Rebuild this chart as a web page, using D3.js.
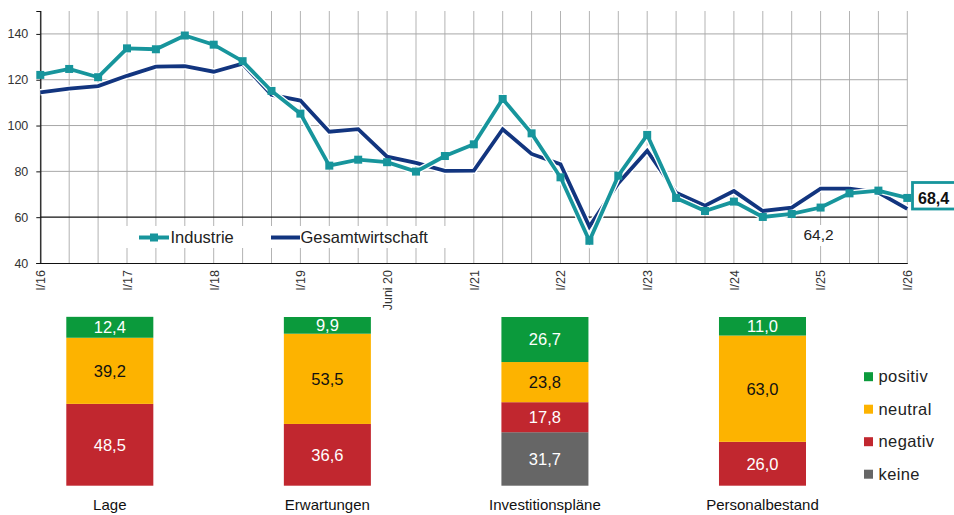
<!DOCTYPE html>
<html><head><meta charset="utf-8">
<script src="https://cdn.jsdelivr.net/npm/d3@7"></script>
<style>
html,body{margin:0;padding:0;background:#fff;}
svg{display:block;font-family:"Liberation Sans",Arial,sans-serif;}
</style></head>
<body><svg id="c" width="954" height="515"></svg>
<script>
// ---- data ----
const periods = ["I/16","II/16","III/16","I/17","II/17","III/17","I/18","II/18","III/18","I/19","II/19","III/19",
  "Juni 20","II/20","III/20","I/21","II/21","III/21","I/22","II/22","III/22","I/23","II/23","III/23",
  "I/24","II/24","III/24","I/25","II/25","III/25","I/26"];
const shownTicks = ["I/16","I/17","I/18","I/19","Juni 20","I/21","I/22","I/23","I/24","I/25","I/26"];
const industrie = [122.1,124.7,121.1,133.7,133.3,139.3,135.3,128.1,115.1,105.2,82.5,85.1,84.0,79.9,86.7,91.8,
  111.6,96.6,77.4,49.7,78.1,95.9,68.4,62.7,66.8,60.1,61.4,64.2,70.4,71.6,68.4];
const gesamt = [114.5,116.1,117.2,121.7,125.7,125.9,123.5,127.0,113.4,110.9,97.3,98.4,86.4,83.7,80.2,80.3,
  98.4,87.6,83.1,55.9,74.8,89.0,70.7,65.0,71.4,62.7,64.2,72.5,72.5,70.7,63.6];
const yTicks = [40,60,80,100,120,140];
const seriesNames = ["Industrie","Gesamtwirtschaft"];

const barCategories = ["Lage","Erwartungen","Investitionspläne","Personalbestand"];
const answerKeys = ["positiv","neutral","negativ","keine"];
const positiv = [12.4, 9.9, 26.7, 11.0];
const neutral = [39.2, 53.5, 23.8, 63.0];
const negativ = [48.5, 36.6, 17.8, 26.0];
const keine   = [0, 0, 31.7, 0];

// ---- styles ----
const TEAL = "#17959c", NAVY = "#12357f";
const colors = {positiv:"#0b9a3c", neutral:"#fdb300", negativ:"#c1272f", keine:"#666666"};
const textColors = {positiv:"#fff", neutral:"#111", negativ:"#fff", keine:"#fff"};

const svg = d3.select("#c");

// ---- line chart ----
const x = d3.scalePoint().domain(periods).range([40.3, 907.3]);
const y = d3.scaleLinear().domain([40,150]).range([263, 11]);

const grid = svg.append("g");
grid.selectAll("line.v").data(periods).join("line")
  .attr("x1", d=>x(d)).attr("x2", d=>x(d)).attr("y1", y(150)).attr("y2", y(40))
  .attr("stroke", "#b3b3b3").attr("stroke-width", 1);
grid.selectAll("line.h").data(yTicks.filter(v=>v>60)).join("line")
  .attr("x1", x(periods[0])).attr("x2", x(periods[periods.length-1]))
  .attr("y1", d=>y(d)).attr("y2", d=>y(d))
  .attr("stroke", "#a8a8a8").attr("stroke-width", 1);
svg.append("line").attr("x1", x(periods[0])).attr("x2", x(periods[periods.length-1]))
  .attr("y1", y(60)).attr("y2", y(60)).attr("stroke", "#111").attr("stroke-width", 1.2);

// y axis
const yAxis = svg.append("g").attr("transform", `translate(${x(periods[0])},0)`)
  .call(d3.axisLeft(y).tickValues(yTicks).tickSize(4).tickPadding(8).tickFormat(d3.format("d")));
yAxis.select(".domain").attr("stroke", "#111").attr("stroke-width", 1.2);
yAxis.selectAll(".tick line").attr("stroke", "#111");
yAxis.selectAll("text").attr("font-size", 12.5).attr("fill", "#333").attr("font-family", "Liberation Sans, Arial, sans-serif");

// x axis
const xAxis = svg.append("g").attr("transform", `translate(0,${y(40)})`)
  .call(d3.axisBottom(x).tickValues(shownTicks).tickSize(0).tickPadding(0));
xAxis.select(".domain").attr("stroke", "#111").attr("stroke-width", 1.2);
xAxis.selectAll("text")
  .attr("font-size", 12.5).attr("fill", "#333").attr("font-family", "Liberation Sans, Arial, sans-serif")
  .attr("text-anchor", "end").attr("transform", "rotate(-90)")
  .attr("x", -7).attr("y", 0).attr("dy", "0.35em");

// legend white box
svg.append("rect").attr("x", 110).attr("y", 226).attr("width", 355).attr("height", 22).attr("fill", "#fff");
// 64,2 label
const ann = svg.append("g");
ann.append("rect").attr("x", x("I/25")-14).attr("y", 225).attr("width", 30).attr("height", 21).attr("fill", "#fff");
ann.append("text").attr("x", x("I/25")-2).attr("y", 235).attr("dy", "0.35em").attr("text-anchor", "middle")
  .attr("font-size", 15.5).attr("fill", "#222").text(d3.format(".1f")(industrie[27]).replace(".", ","));

// lines
const line = d3.line().x((d,i)=>x(periods[i])).y(d=>y(d));
svg.append("path").datum(gesamt).attr("d", line).attr("fill", "none")
  .attr("stroke", "#fff").attr("stroke-width", 6.5).attr("stroke-linejoin", "miter");
svg.append("path").datum(gesamt).attr("d", line).attr("fill", "none")
  .attr("stroke", NAVY).attr("stroke-width", 3.8).attr("stroke-linejoin", "miter");
svg.append("path").datum(industrie).attr("d", line).attr("fill", "none")
  .attr("stroke", "#fff").attr("stroke-width", 6.5).attr("stroke-linejoin", "miter");
svg.append("path").datum(industrie).attr("d", line).attr("fill", "none")
  .attr("stroke", TEAL).attr("stroke-width", 3.8).attr("stroke-linejoin", "miter");
svg.selectAll("rect.mk").data(industrie).join("rect").attr("class", "mk")
  .attr("x", (d,i)=>x(periods[i])-4).attr("y", d=>y(d)-4).attr("width", 8).attr("height", 8)
  .attr("fill", TEAL);

// legend
const lg = svg.append("g");
lg.append("line").attr("x1", 139).attr("x2", 169).attr("y1", 237.5).attr("y2", 237.5).attr("stroke", TEAL).attr("stroke-width", 4);
lg.append("rect").attr("x", 150).attr("y", 233.5).attr("width", 8).attr("height", 8).attr("fill", TEAL);
lg.append("text").attr("x", 170.5).attr("y", 237.5).attr("dy", "0.35em").attr("font-size", 16.5).attr("fill", "#222").text(seriesNames[0]);
lg.append("line").attr("x1", 271).attr("x2", 300).attr("y1", 237.5).attr("y2", 237.5).attr("stroke", NAVY).attr("stroke-width", 4);
lg.append("text").attr("x", 300.5).attr("y", 237.5).attr("dy", "0.35em").attr("font-size", 16.5).attr("fill", "#222").text(seriesNames[1]);

// last value box
const lastV = industrie[industrie.length-1];
svg.append("rect").attr("x", 912.5).attr("y", 182.5).attr("width", 44).attr("height", 26.5)
  .attr("fill", "#fff").attr("stroke", TEAL).attr("stroke-width", 2.8);
svg.append("text").attr("x", 918).attr("y", y(lastV)).attr("dy", "0.36em").attr("font-size", 16)
  .attr("font-weight", "bold").attr("fill", "#111").text(d3.format(".1f")(lastV).replace(".", ","));

// ---- stacked bars ----
const barRows = barCategories.map((c,i)=>({cat:c, positiv:positiv[i], neutral:neutral[i], negativ:negativ[i], keine:keine[i]}));
const stackOrder = ["keine","negativ","neutral","positiv"];
const stack = d3.stack().keys(stackOrder)(barRows);
const bx = d3.scaleBand().domain(barCategories).range([66.3, 806]).paddingInner(0.6).paddingOuter(0);
const by = d3.scaleLinear().domain([0,100]).range([485.7, 317]);

const bars = svg.append("g");
stack.forEach(layer=>{
  const key = layer.key;
  layer.forEach(seg=>{
    const v = seg[1]-seg[0];
    if (v <= 0) return;
    const cat = seg.data.cat;
    bars.append("rect").attr("x", bx(cat)).attr("width", bx.bandwidth())
      .attr("y", by(seg[1])).attr("height", by(seg[0])-by(seg[1])).attr("fill", colors[key]);
    bars.append("text").attr("x", bx(cat)+bx.bandwidth()/2).attr("y", (by(seg[0])+by(seg[1]))/2)
      .attr("dy", "0.36em").attr("text-anchor", "middle").attr("font-size", 16.5)
      .attr("fill", textColors[key]).text(d3.format(".1f")(v).replace(".", ","));
  });
});
bars.selectAll("text.cat").data(barCategories).join("text").attr("class", "cat")
  .attr("x", d=>bx(d)+bx.bandwidth()/2).attr("y", 510).attr("text-anchor", "middle")
  .attr("font-size", 15).attr("fill", "#111").text(d=>d);

// bar legend
const bl = svg.append("g");
answerKeys.forEach((k,i)=>{
  const cy = 376.7 + i*32.5;
  bl.append("rect").attr("x", 864).attr("y", cy-4.5).attr("width", 9).attr("height", 9).attr("fill", colors[k]);
  bl.append("text").attr("x", 878.5).attr("y", cy).attr("dy", "0.35em").attr("font-size", 16.5)
    .attr("fill", "#222").attr("letter-spacing", 0.4).text(k);
});
</script></body></html>
